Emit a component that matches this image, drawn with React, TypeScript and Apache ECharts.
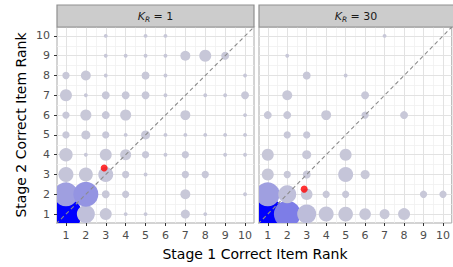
import React, { useEffect, useRef } from "react";
import * as echarts from "echarts";

// facet labels (K_R values)
const panelLabels = ["1", "30"];
// axis ticks
const rankTicks = [1, 2, 3, 4, 5, 6, 7, 8, 9, 10];
const minorBreaks = [1.5, 2.5, 3.5, 4.5, 5.5, 6.5, 7.5, 8.5, 9.5];
const diagonal = [
  [0.5, 0.5],
  [10.5, 10.5],
];

// [stage1 rank, stage2 rank, count]  (K_R = 1)
const pointsK1 = [
  [1, 1, 400], [2, 1, 111], [3, 1, 42], [4, 1, 1], [5, 1, 1], [7, 1, 20], [8, 1, 1],
  [1, 2, 213], [2, 2, 233], [3, 2, 14], [4, 2, 11], [7, 2, 26], [10, 2, 1],
  [1, 3, 72], [2, 3, 61], [3, 3, 72], [4, 3, 11], [5, 3, 1], [7, 3, 11], [8, 3, 11],
  [1, 4, 55], [2, 4, 1], [3, 4, 42], [4, 4, 34], [5, 4, 11], [6, 4, 1], [7, 4, 11], [9, 4, 1], [10, 4, 1],
  [1, 5, 11], [2, 5, 20], [3, 5, 11], [4, 5, 1], [5, 5, 20], [6, 5, 1], [7, 5, 1], [8, 5, 1], [9, 5, 1], [10, 5, 1],
  [1, 6, 11], [2, 6, 34], [3, 6, 14], [4, 6, 34], [7, 6, 26], [10, 6, 1],
  [1, 7, 42], [2, 7, 1], [3, 7, 14], [4, 7, 14], [5, 7, 14], [6, 7, 1], [8, 7, 1], [9, 7, 1], [10, 7, 14],
  [1, 8, 11], [2, 8, 26], [3, 8, 1], [5, 8, 14], [6, 8, 1], [10, 8, 1],
  [3, 9, 1], [4, 9, 1], [5, 9, 1], [6, 9, 1], [7, 9, 26], [8, 9, 42], [9, 9, 14],
  [3, 10, 1], [5, 10, 1], [6, 10, 1],
];

// [stage1 rank, stage2 rank, count]  (K_R = 30)
const pointsK30 = [
  [1, 1, 400], [2, 1, 270], [3, 1, 126], [4, 1, 72], [5, 1, 68], [6, 1, 39], [7, 1, 26], [8, 1, 42],
  [1, 2, 213], [2, 2, 111], [3, 2, 39], [4, 2, 11], [5, 2, 11], [9, 2, 11], [10, 2, 11],
  [1, 3, 42], [2, 3, 11], [3, 3, 14], [5, 3, 72], [6, 3, 20],
  [1, 4, 42], [3, 4, 20], [5, 4, 42],
  [2, 5, 11], [3, 5, 11],
  [1, 6, 14], [2, 6, 14], [4, 6, 26], [6, 6, 11], [8, 6, 14],
  [2, 7, 26], [6, 7, 14],
  [3, 8, 14], [5, 8, 1],
  [2, 9, 1],
  [7, 10, 1],
];

// mean ranks (red points)
const meanK1 = [[2.92, 3.33]];
const meanK30 = [[2.87, 2.26]];

const N_MAX = 400;
const rScale = (n: number) => 1.2 + 14.8 * Math.sqrt(n / N_MAX);
const LOW = [200, 200, 216];
const HIGH = [0, 0, 255];
const colorScale = (n: number) => {
  const t = Math.pow(Math.min(1, n / N_MAX), 2.5);
  const c = LOW.map((l, i) => Math.round(l + (HIGH[i] - l) * t));
  return `rgb(${c[0]},${c[1]},${c[2]})`;
};

const FONT = "DejaVu Sans";
const AX_MIN = 0.55;
const AX_MAX = 10.45;
const GRID_TOP = 27;
const GRID_H = 196;
const GRID_W = 197;
const gridLefts = [57, 259];

export default function App() {
  const ref = useRef<HTMLDivElement>(null);
  useEffect(() => {
    if (!ref.current) return;
    const chart = echarts.init(ref.current, null, { renderer: "svg" });

    const renderBubble = (_params: any, api: any) => {
      const x = api.value(0);
      const y = api.value(1);
      const n = api.value(2);
      const p = api.coord([x, y]);
      return {
        type: "circle",
        shape: { cx: p[0], cy: p[1], r: rScale(n) },
        style: { fill: colorScale(n) },
      };
    };

    const xAxes: any[] = [];
    const yAxes: any[] = [];
    const series: any[] = [];
    const graphics: any[] = [];
    const allPoints = [pointsK1, pointsK30];
    const allMeans = [meanK1, meanK30];

    gridLefts.forEach((gl, i) => {
      xAxes.push({
        gridIndex: i,
        type: "value",
        min: AX_MIN,
        max: AX_MAX,
        splitNumber: 10,
        splitLine: { show: false },
        axisLine: { show: false },
        axisTick: {
          show: true,
          length: 3,
          customValues: rankTicks,
          lineStyle: { color: "#333333", width: 1 },
        },
        axisLabel: {
          show: true,
          customValues: rankTicks,
          color: "#4d4d4d",
          fontSize: 11,
          fontFamily: FONT,
          margin: 7,
          showMinLabel: true,
          showMaxLabel: true,
          formatter: (v: number) => (Number.isInteger(v) ? String(v) : ""),
        },
      });
      yAxes.push({
        gridIndex: i,
        type: "value",
        min: AX_MIN,
        max: AX_MAX,
        splitNumber: 10,
        splitLine: { show: false },
        axisLine: { show: false },
        axisTick: {
          show: i === 0,
          length: 3,
          customValues: rankTicks,
          lineStyle: { color: "#333333", width: 1 },
        },
        axisLabel: {
          show: i === 0,
          customValues: rankTicks,
          color: "#4d4d4d",
          fontSize: 11,
          fontFamily: FONT,
          margin: 7,
          formatter: (v: number) => (Number.isInteger(v) ? String(v) : ""),
        },
      });

      const minorStyle = { color: "#f0f0f0", width: 0.8, type: "solid" };
      const majorStyle = { color: "#e2e2e2", width: 1, type: "solid" };
      series.push({
        type: "line",
        xAxisIndex: i,
        yAxisIndex: i,
        data: [],
        z: 1,
        silent: true,
        markLine: {
          z: 1,
          silent: true,
          symbol: "none",
          label: { show: false },
          emphasis: { disabled: true },
          data: [
            ...minorBreaks.map((v) => ({ xAxis: v, lineStyle: minorStyle })),
            ...minorBreaks.map((v) => ({ yAxis: v, lineStyle: minorStyle })),
            ...rankTicks.map((v) => ({ xAxis: v, lineStyle: majorStyle })),
            ...rankTicks.map((v) => ({ yAxis: v, lineStyle: majorStyle })),
          ],
        },
      });

      series.push({
        type: "custom",
        xAxisIndex: i,
        yAxisIndex: i,
        z: 2,
        clip: true,
        silent: true,
        renderItem: renderBubble,
        encode: { x: 0, y: 1 },
        data: allPoints[i],
      });

      series.push({
        type: "line",
        xAxisIndex: i,
        yAxisIndex: i,
        z: 3,
        clip: true,
        silent: true,
        symbol: "none",
        data: diagonal,
        lineStyle: { color: "#8c8c8c", width: 1.1, type: [4, 3] },
      });

      series.push({
        type: "scatter",
        xAxisIndex: i,
        yAxisIndex: i,
        z: 4,
        silent: true,
        symbol: "circle",
        symbolSize: 7,
        itemStyle: { color: "#ff0000" },
        data: allMeans[i],
      });

      graphics.push({
        type: "rect",
        x: gl,
        y: 5,
        shape: { width: GRID_W, height: 22 },
        style: { fill: "#cccccc", stroke: "#8f8f8f", lineWidth: 1.2 },
        z: 10,
      });
      graphics.push({
        type: "text",
        x: gl + GRID_W / 2 - (i === 1 ? 1.5 : 0),
        y: 16,
        z: 11,
        style: {
          text: `{k|K}{s|R}{t| = ${panelLabels[i]}}`,
          align: "center",
          verticalAlign: "middle",
          rich: {
            k: { fontSize: 11, fontStyle: "italic", fontFamily: FONT, fill: "#1a1a1a", color: "#1a1a1a", lineHeight: 14, verticalAlign: "middle" },
            s: { fontSize: 7.5, fontStyle: "italic", fontFamily: FONT, fill: "#1a1a1a", color: "#1a1a1a", lineHeight: 14, verticalAlign: "bottom", padding: [5, 0, 0, 0] },
            t: { fontSize: 11, fontFamily: FONT, fill: "#1a1a1a", color: "#1a1a1a", lineHeight: 14, verticalAlign: "middle" },
          },
        },
      });
    });

    graphics.push({
      type: "text",
      x: 255,
      y: 254,
      style: {
        text: "Stage 1 Correct Item Rank",
        fontSize: 14,
        fontFamily: FONT,
        fill: "#000000",
        align: "center",
        verticalAlign: "middle",
      },
    });
    graphics.push({
      type: "text",
      x: 21,
      y: 125,
      rotation: Math.PI / 2,
      style: {
        text: "Stage 2 Correct Item Rank",
        fontSize: 14,
        fontFamily: FONT,
        fill: "#000000",
        align: "center",
        verticalAlign: "middle",
      },
    });

    chart.setOption({
      animation: false,
      backgroundColor: "#ffffff",
      textStyle: { fontFamily: FONT },
      grid: gridLefts.map((gl) => ({
        left: gl,
        top: GRID_TOP,
        width: GRID_W,
        height: GRID_H,
        show: true,
        backgroundColor: "#ffffff",
        borderColor: "#a8a8a8",
        borderWidth: 1,
        containLabel: false,
      })),
      xAxis: xAxes,
      yAxis: yAxes,
      series,
      graphic: graphics,
    });

    return () => chart.dispose();
  }, []);

  return (
    <div
      ref={ref}
      style={{ position: "fixed", left: 0, top: 0, width: 453, height: 267 }}
    />
  );
}
